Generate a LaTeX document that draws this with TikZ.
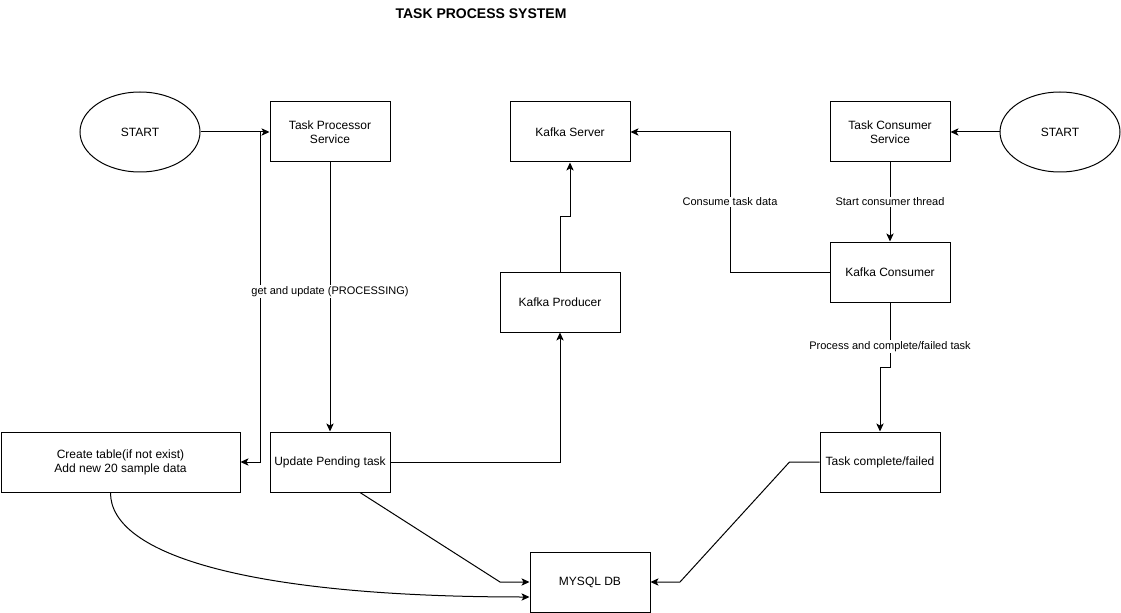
\documentclass[tikz,border=0pt]{standalone}
\usepackage{fontspec}
\setmainfont{Liberation Sans}
\usetikzlibrary{arrows.meta,shapes.geometric,calc}
\begin{document}
\begin{tikzpicture}[x = 0.75pt, y = -0.75pt,
		box/.style = {draw, line width = 0.75pt, minimum width = 90pt, minimum height = 45pt, inner sep = 1pt, align = center, font = \fontsize{9pt}{10.5pt}\selectfont},
		startnode/.style = {draw, ellipse, line width = 0.75pt, minimum width = 90pt, minimum height = 60pt, inner sep = 0pt, font = \fontsize{9pt}{10.5pt}\selectfont},
		link/.style = {line width = 0.75pt, -{Stealth[length = 6pt, width = 5.5pt, inset = 1.5pt]}},
		lbl/.style = {fill = white, inner sep = 1pt, font = \fontsize{8.25pt}{9.5pt}\selectfont}]
		\useasboundingbox (0,0) rectangle (1121,613);
		\node [font = \fontsize{10.5pt}{12pt}\selectfont\bfseries](title) at (481,14) {TASK PROCESS SYSTEM};
		\node [startnode](startL) at (140,132) {START};
		\node [box](tps) at (330,132) {Task Processor\\Service};
		\node [box](kserver) at (570,132) {Kafka Server};
		\node [box](tcs) at (890,132) {Task Consumer\\Service};
		\node [startnode](startR) at (1060,132) {START};
		\node [box](kconsumer) at (890,272) {Kafka Consumer};
		\node [box](producer) at (560,302) {Kafka Producer};
		\node [box, minimum width = 179.25pt](create) at (120.5,462) {Create table(if not exist)\\Add new 20 sample data};
		\node [box](update) at (330,462) {Update Pending task};
		\node [box](taskdone) at (880,462) {Task complete/failed};
		\node [box](mysql) at (590,582) {MYSQL DB};
		\coordinate (split) at (260,132);
		\coordinate (bendA) at (730,272);
		\draw [link] (startL.east) -- (tps.west);
		\draw [link] (startL.east) -- (split) |- (create.east);
		\draw [link] (tps) -- node [lbl, pos = 0.48] {get and update (PROCESSING)} (update);
		\draw [link] (update.east) -| (producer.south);
		\draw [link] (producer.north) -- ++(0,-55) -| (kserver.south);
		\draw [link] (kconsumer.west) -- (bendA) |- node [lbl, pos = 0.25] {Consume task data} (kserver.east);
		\draw [link] (tcs) -- node [lbl] {Start consumer thread} (kconsumer);
		\draw [link] (startR.west) -- (tcs.east);
		\draw [link] (kconsumer.south) -- node [lbl, pos = 0.68] {Process and complete/failed task} ++(0,65) -| (taskdone.north);
		\draw [link] (taskdone.west) -- ++(-30,0) -- (680,582) -- (mysql.east);
		\draw [link] ([xshift = 22.5pt]update.south) -- (500,582) -- (mysql.west);
		\draw [link] ([xshift = -7.5pt]create.south) .. controls (110,555) and (250,597) .. ([yshift = -11.25pt]mysql.west);
\end{tikzpicture}
\end{document}
